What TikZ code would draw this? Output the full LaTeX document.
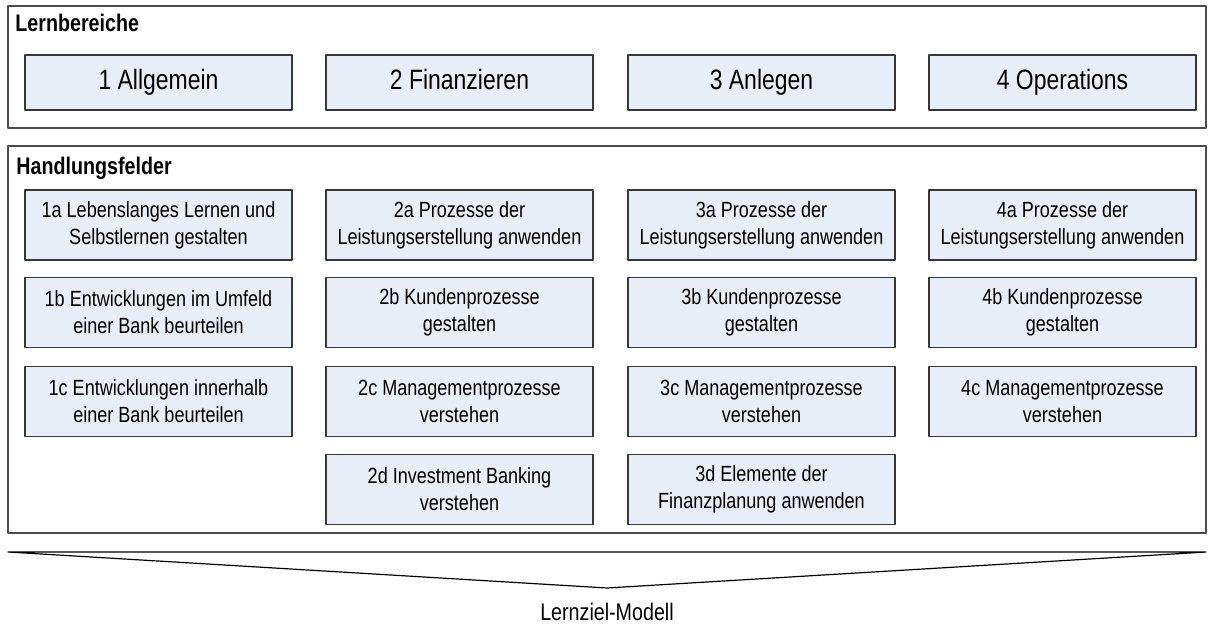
\documentclass[tikz,border=0pt]{standalone}
\usepackage{fontspec}
\setmainfont{Liberation Sans}[FakeStretch=0.82]
\definecolor{boxfill}{RGB}{232,238,247}
\definecolor{rim}{RGB}{55,55,55}
\begin{document}
\begin{tikzpicture}[x=0.5pt,y=-0.5pt, line join=round,
	bereich/.style={draw=rim, fill=boxfill, line width=0.6pt, minimum width=133.5pt, minimum height=27.5pt, inner sep=0pt, text height=10pt, text depth=2.9pt, font=\fontsize{14}{16}\selectfont},
	feld/.style={draw=rim, fill=boxfill, line width=0.6pt, minimum width=133.5pt, minimum height=35pt, inner sep=0pt, align=center, font=\fontsize{11}{13.5}\selectfont},
	rahmen/.style={draw=black!70, line width=0.8pt},
	titel/.style={anchor=base west, inner sep=0pt, font=\bfseries\fontsize{12}{14}\selectfont}]
	\useasboundingbox (0,0) rectangle (1214,625);
	\def\ca{158.5} \def\cb{459.5} \def\cc{761.5} \def\cd{1062.5} % Spalten
	% Lernbereiche
	\draw[rahmen] (8,6) rectangle (1206,128);
	\node[titel] (tl) at (15,31.5) {Lernbereiche};
	\node[bereich] (l1) at (\ca,82.5) {1 Allgemein};
	\node[bereich] (l2) at (\cb,82.5) {2 Finanzieren};
	\node[bereich] (l3) at (\cc,82.5) {3 Anlegen};
	\node[bereich] (l4) at (\cd,82.5) {4 Operations};
	% Handlungsfelder
	\draw[rahmen] (8,146) rectangle (1206,533);
	\node[titel] (th) at (16,175) {Handlungsfelder};
	\node[feld] (h1a) at (\ca,225) {1a Lebenslanges Lernen und\\Selbstlernen gestalten};
	\node[feld] (h1b) at (\ca,312.5) {1b Entwicklungen im Umfeld\\einer Bank beurteilen};
	\node[feld] (h1c) at (\ca,401.5) {1c Entwicklungen innerhalb\\einer Bank beurteilen};
	\node[feld] (h2a) at (\cb,225) {2a Prozesse der\\Leistungserstellung anwenden};
	\node[feld] (h2b) at (\cb,312.5) {2b Kundenprozesse\\gestalten};
	\node[feld] (h2c) at (\cb,401.5) {2c Managementprozesse\\verstehen};
	\node[feld] (h2d) at (\cb,489.5) {2d Investment Banking\\verstehen};
	\node[feld] (h3a) at (\cc,225) {3a Prozesse der\\Leistungserstellung anwenden};
	\node[feld] (h3b) at (\cc,312.5) {3b Kundenprozesse\\gestalten};
	\node[feld] (h3c) at (\cc,401.5) {3c Managementprozesse\\verstehen};
	\node[feld] (h3d) at (\cc,489.5) {3d Elemente der\\Finanzplanung anwenden};
	\node[feld] (h4a) at (\cd,225) {4a Prozesse der\\Leistungserstellung anwenden};
	\node[feld] (h4b) at (\cd,312.5) {4b Kundenprozesse\\gestalten};
	\node[feld] (h4c) at (\cd,401.5) {4c Managementprozesse\\verstehen};
	% Klammer
	\draw[line width=0.6pt] (8,552) -- (1206,552) -- (607,588) -- cycle;
	\node[anchor=base, inner sep=0pt, font=\fontsize{12}{14}\selectfont] (lm) at (607,620) {Lernziel-Modell};
\end{tikzpicture}
\end{document}
